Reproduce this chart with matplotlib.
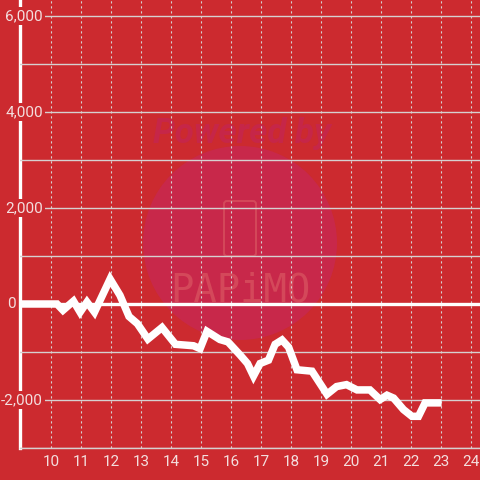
import numpy as np
import matplotlib.pyplot as plt
from matplotlib.patches import Circle, FancyBboxPatch
from matplotlib.ticker import MultipleLocator
from matplotlib.transforms import blended_transform_factory

# hour of day and running balance
hours = [9.0, 10.2, 10.4, 10.75, 10.97, 11.2, 11.45, 11.97, 12.3, 12.6, 12.88,
         13.23, 13.7, 14.15, 14.75, 14.97, 15.2, 15.63, 15.9, 16.3, 16.55,
         16.75, 16.97, 17.25, 17.47, 17.7, 17.92, 18.2, 18.7, 19.2, 19.52,
         19.85, 20.2, 20.63, 20.97, 21.2, 21.42, 21.75, 22.03, 22.25, 22.47,
         23.02]
balance = [0, 0, -130, 60, -170, 40, -170, 520, 180, -260, -410,
           -730, -490, -840, -870, -930, -570, -740, -790, -1060, -1240,
           -1500, -1240, -1170, -840, -750, -900, -1370, -1400, -1880, -1720,
           -1680, -1790, -1790, -1990, -1900, -1960, -2200, -2340, -2340, -2060,
           -2060]
x_ticks = list(range(10, 25))
y_ticks = [-2000, 0, 2000, 4000, 6000]

bg = '#cc2a2f'
txt = '#f3dede'
grid = '#d6d0d0'

plt.rcParams['font.family'] = ['Roboto', 'DejaVu Sans']

fig = plt.figure(figsize=(4.8, 4.8), dpi=100)
fig.patch.set_facecolor(bg)
ax = fig.add_axes([20/480, 32/480, 460/480, 448/480])
ax.set_facecolor(bg)

ax.set_xlim(8.967, 24.3)
ax.set_ylim(-3000, 6333)

# watermark (placed in inches from the figure's lower left)
inch = fig.dpi_scale_trans
ax.add_patch(Circle((2.40, 2.37), 0.97, transform=inch,
                    facecolor='#c8284a', edgecolor='none', zorder=0.1))
ax.text(2.42, 3.47, 'Powered by', transform=inch, ha='center', va='center',
        fontsize=25, fontweight='bold', style='italic', color='#c62648', zorder=0.2)
ax.text(2.40, 1.90, 'PAPiMO', transform=inch, ha='center', va='center',
        fontsize=28, color='#d4485a', zorder=0.2, family='DejaVu Sans Mono')
ax.add_patch(FancyBboxPatch((2.24, 2.24), 0.32, 0.55, transform=inch,
                            boxstyle='round,pad=0,rounding_size=0.03',
                            facecolor='none', edgecolor='#d4485a', lw=1.4, zorder=0.2))

ax.set_xticks(x_ticks)
ax.set_yticks(y_ticks)
ax.set_yticklabels([])
ax.yaxis.set_minor_locator(MultipleLocator(1000))

ax.set_axisbelow(True)
ax.grid(axis='y', which='both', color=grid, lw=1.0, ls='-')
ax.grid(axis='x', which='major', color=grid, lw=0.8, ls=(0, (2, 2.5)))

ax.tick_params(axis='both', which='both', length=0, colors=txt, labelsize=11)
ax.tick_params(axis='x', pad=5)

# y labels sit inside the plot, over the axis line
tr = blended_transform_factory(ax.transAxes, ax.transData)
for v in y_ticks:
    xr = 23/460 if v != 0 else -4/460
    ax.text(xr, v, f'{v:,}', transform=tr, ha='right', va='center', fontsize=11,
            color=txt, zorder=1.0, clip_on=False,
            bbox=dict(facecolor=bg, edgecolor='none', pad=1.5))

for s in ['top', 'right']:
    ax.spines[s].set_visible(False)
ax.spines['left'].set_color('white')
ax.spines['left'].set_linewidth(2.4)
ax.spines['left'].set_zorder(0.4)
ax.spines['bottom'].set_color(grid)
ax.spines['bottom'].set_linewidth(1.0)

ax.axhline(0, color='white', lw=2.4, zorder=3)
ax.plot(hours, balance, color='white', lw=5.4, zorder=4,
        solid_joinstyle='miter', solid_capstyle='butt')

fig.savefig('out.png', dpi=100, facecolor=bg)
